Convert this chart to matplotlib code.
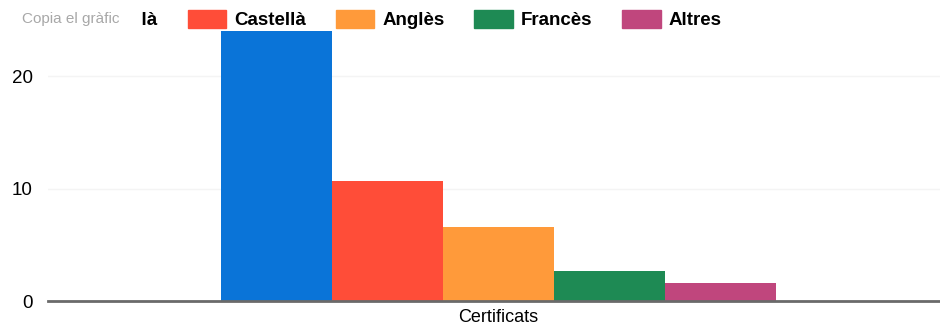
import matplotlib
matplotlib.use("Agg")
import matplotlib.pyplot as plt
from matplotlib.patches import Patch, Rectangle

plt.rcParams['font.family'] = ['Liberation Sans', 'DejaVu Sans']

# data
group = "Certificats"
languages = ["Català", "Castellà", "Anglès", "Francès", "Altres"]
values = [24, 10.7, 6.6, 2.7, 1.6]
colors = ["#0A74D8", "#FF4D38", "#FF9A3A", "#1E8A54", "#C0467D"]
yticks = [0, 10, 20]

W, H = 940, 335
fig = plt.figure(figsize=(W / 100, H / 100), dpi=100)
ax = fig.add_axes([48 / W, 1 - 301 / H, 1 - 48 / W, 301 / H])

w = 0.1244
for i, (lang, v, c) in enumerate(zip(languages, values, colors)):
    ax.bar((i - 2) * w, v, width=w, color=c, label=lang, zorder=2)

ax.set_xlim(-0.505, 0.495)
ax.set_ylim(0, 26.8)
ax.set_xticks([0])
ax.set_xticklabels([group], fontsize=13)
ax.set_yticks(yticks)
ax.set_yticklabels([str(t) for t in yticks], fontsize=13.5)
ax.tick_params(length=0, pad=6)
ax.tick_params(axis='y', pad=11)
ax.grid(axis='y', color='#f4f4f4', linewidth=1, zorder=0)
for s in ['top', 'right', 'left']:
    ax.spines[s].set_visible(False)
ax.spines['bottom'].set_color('#6a6a6a')
ax.spines['bottom'].set_linewidth(2)

handles = [Patch(color=c) for c in colors]
leg = fig.legend(handles, languages, loc='upper left', bbox_to_anchor=(42 / W, 1.0 + 3 / H),
                 ncol=5, frameon=False, fontsize=13.5, handlelength=2.05, handleheight=1.05,
                 handletextpad=0.42, columnspacing=1.6, borderaxespad=0.3)
for t in leg.get_texts():
    t.set_fontweight('bold')

# "Copia el gràfic" overlay covering the first entry
fig.patches.append(Rectangle((14 / W, 1 - 34 / H), 128 / W, 32 / H, transform=fig.transFigure,
                             facecolor='white', edgecolor='none', zorder=9))
fig.text(22 / W, 1 - 19 / H, "Copia el gràfic", fontsize=11, color='#a8a8a8',
         va='center', ha='left', zorder=10)

fig.savefig("out.png", dpi=100)
